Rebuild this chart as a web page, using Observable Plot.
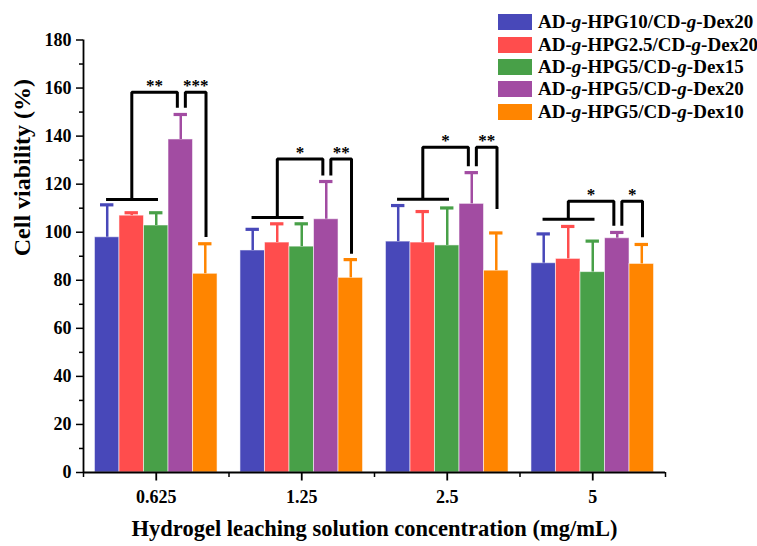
<!DOCTYPE html>
<html>
<head>
<meta charset="utf-8">
<script src="https://cdn.jsdelivr.net/npm/d3@7"></script>
<script src="https://cdn.jsdelivr.net/npm/@observablehq/plot@0.6"></script>
<style>
  html, body { margin: 0; padding: 0; background: #fff; }
  #wrap { position: relative; width: 757px; height: 546px; }
  #legend { position: absolute; left: 498px; top: 11px; font-family: "Liberation Serif", "Times New Roman", serif; font-weight: bold; font-size: 19px; color: #000; }
  .row { display: flex; align-items: center; height: 22.4px; white-space: nowrap; }
  .sw { width: 34px; height: 16px; margin-right: 6px; }
</style>
</head>
<body>
<div id="wrap"><div id="legend"></div></div>
<script>
const groups = ["0.625", "1.25", "2.5", "5"];
const series = ["AD-g-HPG10/CD-g-Dex20", "AD-g-HPG2.5/CD-g-Dex20", "AD-g-HPG5/CD-g-Dex15", "AD-g-HPG5/CD-g-Dex20", "AD-g-HPG5/CD-g-Dex10"];
const colors = ["#4848B9", "#FF4D4D", "#48A048", "#A24CA2", "#FF8500"];
// mean cell viability (%) per group, per series
const viability = [
  [97.9, 106.9, 102.8, 138.6, 82.7],
  [92.4, 95.7, 94.0, 105.4, 81.0],
  [96.1, 95.7, 94.5, 111.8, 84.0],
  [87.1, 88.9, 83.4, 97.5, 86.8]
];
// top of the error bar (mean + SD)
const errorTop = [
  [111.4, 108.1, 108.1, 149.0, 95.2],
  [101.2, 103.5, 103.5, 121.1, 88.6],
  [111.1, 108.6, 110.1, 124.8, 99.7],
  [99.3, 102.4, 96.3, 99.9, 94.9]
];
// significance brackets (y values)
const sigBase = [113.6, 106.1, 113.7, 105.4];
const sigTop = [158.3, 130.5, 135.4, 112.9];
const sigInner = [151.8, 123.6, 127.5, 102.7];
const sigRightEnd = [98.0, 91.0, 109.7, 97.9];
const sigLeftLabel = ["**", "*", "*", "*"];
const sigRightLabel = ["***", "**", "**", "*"];

const bw = 0.1685;
const bars = [];
groups.forEach((g, i) => series.forEach((s, j) => {
  const c = i + (j - 2) * bw;
  bars.push({s, c, x1: c - bw / 2, x2: c + bw / 2, v: viability[i][j], up: errorTop[i][j]});
}));
const cap = 0.046;

const pts = [];
const labels = [];
groups.forEach((g, i) => {
  const b = sigBase[i], t = sigTop[i], n = sigInner[i], r = sigRightEnd[i];
  [[i - 0.345, b], [i + 0.012, b]].forEach(p => pts.push({z: i + "a", x: p[0], y: p[1]}));
  [[i - 0.168, b], [i - 0.168, t], [i + 0.145, t], [i + 0.145, n]].forEach(p => pts.push({z: i + "b", x: p[0], y: p[1]}));
  [[i + 0.200, n], [i + 0.200, t], [i + 0.342, t], [i + 0.342, r]].forEach(p => pts.push({z: i + "c", x: p[0], y: p[1]}));
  labels.push({x: i - 0.012, y: t, t: sigLeftLabel[i]});
  labels.push({x: i + 0.271, y: t, t: sigRightLabel[i]});
});

const chart = Plot.plot({
  width: 757,
  height: 546,
  marginLeft: 83,
  marginRight: 92,
  marginTop: 39.5,
  marginBottom: 74,
  style: {fontFamily: "'Liberation Serif', 'Times New Roman', serif", fontSize: "18px", fontWeight: "bold", color: "#000", background: "#fff"},
  x: {type: "linear", domain: [-0.5, 3.5]},
  y: {domain: [0, 180]},
  color: {domain: series, range: colors},
  marks: [
    Plot.rect(bars, {x1: "x1", x2: "x2", y1: 0, y2: "v", fill: "s", stroke: "white", strokeOpacity: 0.55, strokeWidth: 1}),
    Plot.ruleX(bars, {x: "c", y1: "v", y2: "up", stroke: "s", strokeWidth: 2.5}),
    Plot.ruleY(bars, {y: "up", x1: d => d.c - cap, x2: d => d.c + cap, stroke: "s", strokeWidth: 3.2}),
    Plot.line(pts, {x: "x", y: "y", z: "z", stroke: "black", strokeWidth: 3, strokeLinejoin: "miter", strokeLinecap: "butt"}),
    Plot.text(labels, {x: "x", y: "y", text: "t", fontSize: 17, lineAnchor: "bottom", dy: -1, fill: "black"}),
    Plot.axisY({ticks: d3.range(0, 181, 20), tickSize: 7, tickPadding: 5, strokeWidth: 1.5, label: null}),
    Plot.axisY({ticks: d3.range(10, 180, 20), tickSize: 4, text: null, strokeWidth: 1.5, label: null}),
    Plot.axisX({ticks: [0, 1, 2, 3], tickFormat: i => groups[i], tickSize: 8.5, tickPadding: 9, strokeWidth: 1.8, label: null}),
    Plot.axisX({ticks: [-0.5, 0.5, 1.5, 2.5, 3.5], tickSize: 5, text: null, strokeWidth: 1.5, label: null}),
    Plot.ruleX([-0.5], {y1: 0, y2: 180, strokeWidth: 1.8}),
    Plot.ruleY([0], {x1: -0.5, x2: 3.5, strokeWidth: 1.8}),
    Plot.text(["Cell viability (%)"], {frameAnchor: "left", rotate: -90, dx: -61, fontSize: 24, fill: "black"}),
    Plot.text(["Hydrogel leaching solution concentration (mg/mL)"], {frameAnchor: "bottom", dy: 63, fontSize: 22.5, fill: "black"})
  ]
});
document.getElementById("wrap").prepend(chart);

const legend = document.getElementById("legend");
series.forEach((s, j) => {
  const row = document.createElement("div");
  row.className = "row";
  const sw = document.createElement("div");
  sw.className = "sw";
  sw.style.background = colors[j];
  const label = document.createElement("span");
  label.innerHTML = s.replace(/-g-/g, "-<i>g</i>-");
  row.appendChild(sw);
  row.appendChild(label);
  legend.appendChild(row);
});
</script>
</body>
</html>
